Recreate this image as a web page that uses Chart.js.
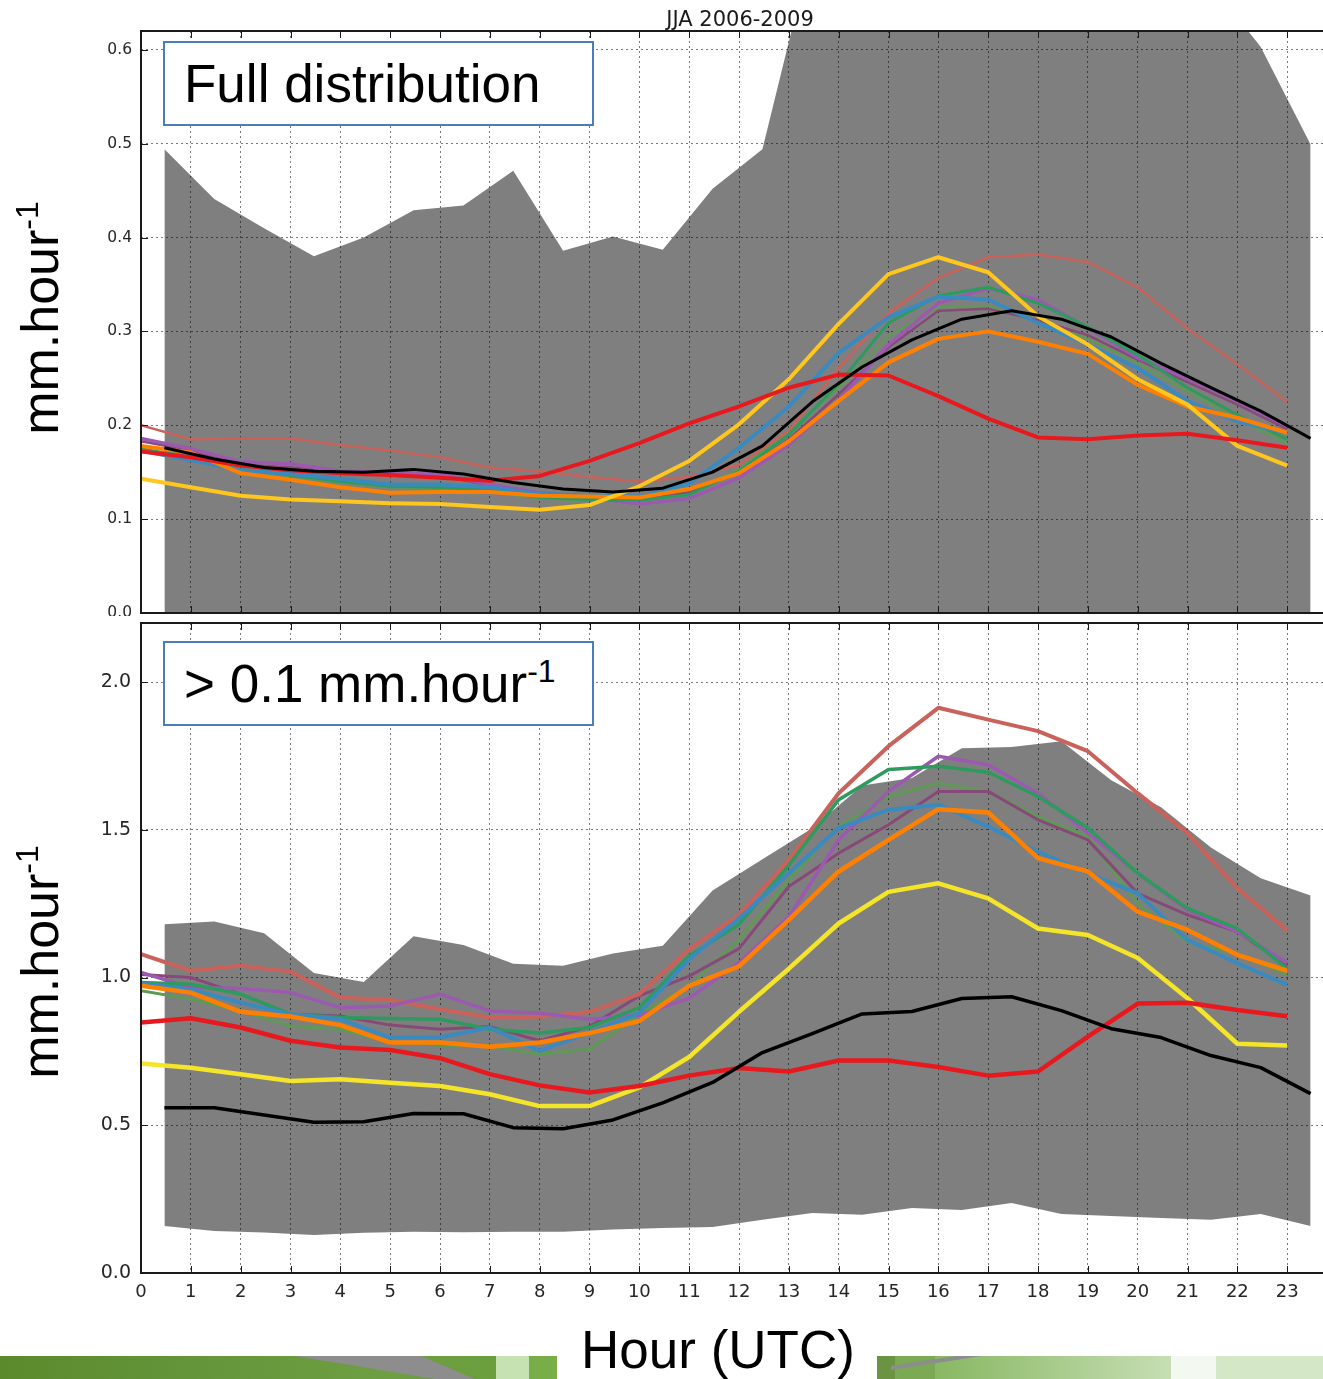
<!DOCTYPE html>
<html>
<head>
<meta charset="utf-8">
<script src="https://cdn.jsdelivr.net/npm/chart.js@4.4.1/dist/chart.umd.min.js"></script>
<style>
  html, body { margin: 0; padding: 0; background: #fff; }
  #page { position: relative; width: 1323px; height: 1379px; overflow: hidden; background: #fff; }
  canvas { position: absolute; left: 0; }
  #cTop { top: 0; }
  #cBot { top: 616px; }
  .title { position: absolute; left: 540px; width: 400px; top: 7px; text-align: center;
           font: 21px "DejaVu Sans", sans-serif; line-height: 24px; color: #1a1a1a; }
  .box { position: absolute; left: 163px; width: 431px; height: 85px; box-sizing: border-box;
         border: 2px solid #4a7ebb; background: #fff; }
  .boxtext { position: absolute; left: 184px; font: 53px "Liberation Sans", Arial, sans-serif;
             line-height: 52px; color: #000; white-space: nowrap; }
  .sup { font-size: 32px; position: relative; top: -20px; }
  .ytitle { position: absolute; width: 320px; height: 60px; line-height: 60px; text-align: center;
            font: 52px "Liberation Sans", Arial, sans-serif; color: #000; white-space: nowrap;
            transform: rotate(-90deg); }
  .ytitle .sup { font-size: 32px; top: -20px; }
  .xtitle { position: absolute; left: 468px; width: 500px; top: 1323px; text-align: center;
            font: 53px "Liberation Sans", Arial, sans-serif; line-height: 53px; color: #000; }
  .strip { position: absolute; top: 1356px; height: 23px; overflow: hidden; }
  #stripL { left: 0; width: 557px;
    background: linear-gradient(90deg, #5b8a2c 0%, #64953a 35%, #6e9f42 70%, #6b9e3d 89%,
                #c6e1b2 89%, #c6e1b2 95%, #79ad47 95%, #79ad47 100%); }
  #stripR { left: 877px; width: 446px;
    background: linear-gradient(90deg, #6a9342 0%, #6a9342 4%, #7ba954 4%, #7ba954 13%,
                #88b862 13%, #c7deb4 66%, #f3f8f0 66%, #f3f8f0 76%, #d4e7c7 76%, #d4e7c7 100%); }
  .wedge { position: absolute; background: #8d8d8d; }
</style>
</head>
<body>
<div id="page">
  <canvas id="cTop" width="1340" height="616"></canvas>
  <canvas id="cBot" width="1340" height="763"></canvas>

  <div class="title">JJA 2006-2009</div>

  <div class="box" style="top:41px"></div>
  <div class="boxtext" style="top:58px">Full distribution</div>

  <div class="box" style="top:641px"></div>
  <div class="boxtext" style="top:658px">&gt; 0.1 mm.hour<span class="sup">-1</span></div>

  <div class="ytitle" style="left:-120px; top:288px">mm.hour<span class="sup">-1</span></div>
  <div class="ytitle" style="left:-120px; top:932px">mm.hour<span class="sup">-1</span></div>

  <div class="strip" id="stripL">
    <div class="wedge" style="left:295px; top:0; width:180px; height:23px;
         clip-path: polygon(0 0, 70% 0, 100% 100%, 78% 100%);"></div>
  </div>
  <div class="strip" id="stripR">
    <div class="wedge" style="left:14px; top:10px; width:170px; height:4px;
         transform: rotate(-8.8deg); transform-origin: 0 50%;"></div>
  </div>

  <div class="xtitle">Hour (UTC)</div>
</div>

<script>
// ---- hours of the day (UTC) and axis labels ----
const HOURS = [0, 1, 2, 3, 4, 5, 6, 7, 8, 9, 10, 11, 12, 13, 14, 15, 16, 17, 18, 19, 20, 21, 22, 23];
const HOUR_LABELS = ['0', '1', '2', '3', '4', '5', '6', '7', '8', '9', '10', '11',
                     '12', '13', '14', '15', '16', '17', '18', '19', '20', '21', '22', '23'];
// observations and their spread are plotted at the centre of each hourly bin
const BIN_CENTRE = 0.47;
const BIN_HOURS = HOURS.map(h => h + BIN_CENTRE);

// ---- full distribution: mean rain rate (mm/hour) ----
const fullRed    = [0.172, 0.166, 0.157, 0.152, 0.149, 0.147, 0.144, 0.141, 0.146, 0.162, 0.181, 0.202, 0.220, 0.240, 0.254, 0.253, 0.231, 0.207, 0.187, 0.185, 0.189, 0.191, 0.184, 0.176];
const fullSalmon = [0.200, 0.185, 0.186, 0.186, 0.179, 0.173, 0.166, 0.155, 0.151, 0.145, 0.140, 0.145, 0.158, 0.194, 0.261, 0.320, 0.357, 0.379, 0.382, 0.374, 0.347, 0.303, 0.265, 0.225];
const fullPurple = [0.186, 0.175, 0.161, 0.159, 0.151, 0.150, 0.148, 0.137, 0.128, 0.123, 0.116, 0.122, 0.144, 0.179, 0.227, 0.286, 0.330, 0.346, 0.334, 0.304, 0.272, 0.250, 0.226, 0.199];
const fullPlum   = [0.183, 0.173, 0.158, 0.155, 0.150, 0.148, 0.146, 0.136, 0.128, 0.124, 0.122, 0.128, 0.150, 0.185, 0.233, 0.283, 0.322, 0.324, 0.312, 0.296, 0.270, 0.246, 0.222, 0.196];
const fullGreen  = [0.175, 0.166, 0.153, 0.147, 0.140, 0.135, 0.134, 0.131, 0.123, 0.121, 0.120, 0.126, 0.151, 0.190, 0.244, 0.309, 0.338, 0.347, 0.330, 0.305, 0.275, 0.240, 0.211, 0.185];
const fullOlive  = [0.174, 0.165, 0.152, 0.146, 0.139, 0.134, 0.133, 0.130, 0.122, 0.120, 0.121, 0.128, 0.153, 0.193, 0.240, 0.295, 0.326, 0.327, 0.311, 0.292, 0.266, 0.236, 0.206, 0.181];
const fullBlue   = [0.173, 0.163, 0.152, 0.148, 0.143, 0.137, 0.137, 0.134, 0.127, 0.125, 0.124, 0.138, 0.176, 0.220, 0.277, 0.315, 0.337, 0.334, 0.309, 0.286, 0.261, 0.226, 0.204, 0.192];
const fullOrange = [0.178, 0.171, 0.149, 0.142, 0.134, 0.128, 0.129, 0.129, 0.125, 0.124, 0.123, 0.132, 0.149, 0.183, 0.226, 0.267, 0.292, 0.300, 0.289, 0.276, 0.243, 0.220, 0.208, 0.192];
const fullGold   = [0.143, 0.134, 0.125, 0.121, 0.119, 0.117, 0.116, 0.113, 0.110, 0.115, 0.135, 0.162, 0.201, 0.249, 0.308, 0.361, 0.379, 0.363, 0.316, 0.286, 0.249, 0.222, 0.178, 0.157];
const fullObs    = [0.176, 0.164, 0.155, 0.151, 0.150, 0.153, 0.148, 0.139, 0.132, 0.129, 0.133, 0.150, 0.178, 0.225, 0.262, 0.291, 0.313, 0.322, 0.313, 0.294, 0.266, 0.240, 0.215, 0.186];
const fullSpreadHigh = [0.494, 0.441, 0.410, 0.380, 0.400, 0.429, 0.434, 0.471, 0.386, 0.401, 0.387, 0.452, 0.494, 0.710, 0.800, 0.850, 0.880, 0.900, 0.880, 0.850, 0.800, 0.670, 0.603, 0.499];

// ---- rain rates above 0.1 mm/hour ----
const wetRed    = [0.848, 0.862, 0.831, 0.786, 0.763, 0.755, 0.727, 0.673, 0.635, 0.611, 0.633, 0.668, 0.694, 0.682, 0.719, 0.719, 0.697, 0.668, 0.682, 0.800, 0.912, 0.915, 0.890, 0.869];
const wetSalmon = [1.079, 1.023, 1.040, 1.020, 0.932, 0.924, 0.893, 0.865, 0.867, 0.884, 0.944, 1.096, 1.212, 1.398, 1.624, 1.783, 1.913, 1.873, 1.834, 1.766, 1.624, 1.489, 1.302, 1.160];
const wetPurple = [1.017, 0.966, 0.963, 0.949, 0.898, 0.904, 0.944, 0.887, 0.879, 0.859, 0.872, 0.930, 1.050, 1.206, 1.466, 1.630, 1.749, 1.720, 1.624, 1.489, 1.353, 1.228, 1.155, 1.050];
const wetPlum   = [1.010, 1.000, 0.944, 0.876, 0.870, 0.839, 0.825, 0.834, 0.786, 0.834, 0.938, 1.005, 1.098, 1.308, 1.421, 1.517, 1.630, 1.630, 1.534, 1.466, 1.285, 1.212, 1.155, 1.040];
const wetGreen  = [0.983, 0.977, 0.944, 0.876, 0.865, 0.861, 0.859, 0.825, 0.812, 0.831, 0.898, 1.073, 1.180, 1.380, 1.602, 1.704, 1.715, 1.695, 1.613, 1.506, 1.353, 1.234, 1.166, 1.030];
const wetOlive  = [0.955, 0.927, 0.887, 0.836, 0.825, 0.780, 0.771, 0.769, 0.740, 0.757, 0.876, 0.970, 1.130, 1.330, 1.511, 1.613, 1.658, 1.630, 1.545, 1.477, 1.250, 1.120, 1.080, 1.010];
const wetBlue   = [0.980, 0.960, 0.915, 0.876, 0.859, 0.797, 0.797, 0.831, 0.752, 0.814, 0.880, 1.062, 1.200, 1.353, 1.506, 1.568, 1.585, 1.511, 1.426, 1.353, 1.285, 1.127, 1.049, 0.975];
const wetOrange = [0.972, 0.949, 0.884, 0.868, 0.839, 0.780, 0.780, 0.766, 0.780, 0.812, 0.853, 0.972, 1.038, 1.195, 1.359, 1.466, 1.570, 1.559, 1.404, 1.359, 1.223, 1.161, 1.077, 1.023];
const wetYellow = [0.709, 0.695, 0.673, 0.650, 0.656, 0.644, 0.633, 0.605, 0.565, 0.565, 0.628, 0.731, 0.884, 1.030, 1.183, 1.290, 1.319, 1.268, 1.166, 1.144, 1.066, 0.930, 0.776, 0.770];
const wetObs    = [0.559, 0.559, 0.535, 0.510, 0.512, 0.540, 0.539, 0.492, 0.488, 0.518, 0.576, 0.645, 0.746, 0.810, 0.877, 0.885, 0.929, 0.935, 0.888, 0.827, 0.797, 0.736, 0.695, 0.607];
const wetSpreadHigh = [1.180, 1.190, 1.150, 1.015, 0.985, 1.140, 1.110, 1.047, 1.040, 1.081, 1.108, 1.295, 1.400, 1.505, 1.650, 1.675, 1.776, 1.780, 1.800, 1.668, 1.576, 1.440, 1.336, 1.278];
const wetSpreadLow  = [0.159, 0.142, 0.137, 0.129, 0.136, 0.140, 0.138, 0.140, 0.140, 0.147, 0.152, 0.156, 0.180, 0.203, 0.197, 0.220, 0.213, 0.237, 0.200, 0.193, 0.186, 0.180, 0.200, 0.159];

// ---- styling ----
const COL = {
  red: '#e8191e', salmon: '#c8625a', purple: '#9b59b0', plum: '#874a78',
  green: '#2e9b5e', olive: '#5e9a55', blue: '#3a8ac0', orange: '#ff8000',
  gold: '#ffc61e', yellow: '#f4e52a', black: '#000000', spread: 'rgba(0,0,0,0.5)'
};
const TICK_FONT = '"DejaVu Sans", sans-serif';

function line(values, xs, color, width) {
  return {
    data: values.map((v, i) => ({ x: xs[i], y: v })),
    borderColor: color, borderWidth: width, pointRadius: 0, fill: false,
    tension: 0, borderJoinStyle: 'round', borderCapStyle: 'butt', order: 1
  };
}

// matplotlib-like frame with inward tick marks
const framePlugin = {
  id: 'frame',
  afterDatasetsDraw(chart) {
    const { ctx, chartArea: a, scales: { x, y } } = chart;
    ctx.save();
    ctx.strokeStyle = '#1a1a1a';
    ctx.lineWidth = 1;
    ctx.beginPath();
    x.ticks.forEach(t => {
      const px = Math.round(x.getPixelForValue(t.value)) + 0.5;
      ctx.moveTo(px, a.top); ctx.lineTo(px, a.top + 7);
      ctx.moveTo(px, a.bottom); ctx.lineTo(px, a.bottom - 7);
    });
    y.ticks.forEach(t => {
      const py = Math.round(y.getPixelForValue(t.value)) + 0.5;
      ctx.moveTo(a.left, py); ctx.lineTo(a.left + 7, py);
      ctx.moveTo(a.right, py); ctx.lineTo(a.right - 7, py);
    });
    ctx.stroke();
    ctx.lineWidth = 2;
    ctx.strokeRect(a.left, a.top, a.right - a.left, a.bottom - a.top);
    ctx.restore();
  }
};

// fixed axis boxes so both panels share the same plotting frame
function fixY(s) { s.width = 141; s.paddingTop = 0; s.paddingBottom = 0; }
function fixX(h) { return s => { s.height = h; s.paddingLeft = 0; s.paddingRight = 0; }; }

function makeOptions(cfg) {
  return {
    responsive: false,
    devicePixelRatio: 1,
    animation: false,
    events: [],
    layout: { autoPadding: false, padding: { left: 0, right: 3, top: cfg.padTop, bottom: 0 } },
    plugins: { legend: { display: false }, tooltip: { enabled: false }, title: { display: false } },
    scales: {
      x: {
        type: 'linear', min: 0, max: 24,
        afterFit: fixX(cfg.xHeight),
        border: { display: false, dash: [2, 3] },
        grid: { color: '#7a7a7a', lineWidth: 1, drawTicks: false },
        ticks: {
          display: cfg.xLabels, stepSize: 1, autoSkip: false, maxRotation: 0, padding: 9,
          color: '#262626', font: { family: TICK_FONT, size: 18 },
          callback: v => (v < HOUR_LABELS.length ? HOUR_LABELS[v] : '')
        }
      },
      y: {
        type: 'linear', min: 0, max: cfg.yMax,
        afterFit: fixY,
        border: { display: false, dash: [2, 3] },
        grid: { color: '#7a7a7a', lineWidth: 1, drawTicks: false },
        ticks: {
          stepSize: cfg.yStep, includeBounds: false, padding: cfg.yPad,
          color: '#262626', font: { family: TICK_FONT, size: cfg.yFont },
          callback: v => v.toFixed(1)
        }
      }
    }
  };
}

// Full distribution panel
new Chart(document.getElementById('cTop'), {
  type: 'line',
  data: {
    datasets: [
      line(fullObs, BIN_HOURS, COL.black, 3),
      line(fullRed, HOURS, COL.red, 4),
      line(fullGold, HOURS, COL.gold, 4),
      line(fullOrange, HOURS, COL.orange, 4),
      line(fullBlue, HOURS, COL.blue, 4),
      line(fullGreen, HOURS, COL.green, 3),
      line(fullPurple, HOURS, COL.purple, 3.5),
      line(fullSalmon, HOURS, COL.salmon, 2.5),
      line(fullPlum, HOURS, COL.plum, 2.5),
      line(fullOlive, HOURS, COL.olive, 2.5),
      {
        data: fullSpreadHigh.map((v, i) => ({ x: BIN_HOURS[i], y: v })),
        borderWidth: 0, pointRadius: 0, tension: 0,
        backgroundColor: COL.spread, fill: 'origin', order: 10
      }
    ]
  },
  options: makeOptions({ padTop: 31, xHeight: 3, xLabels: false, yMax: 0.62, yStep: 0.1, yPad: 9, yFont: 15.5 }),
  plugins: [framePlugin]
});

// Rain rates above 0.1 mm/hour panel
new Chart(document.getElementById('cBot'), {
  type: 'line',
  data: {
    datasets: [
      line(wetObs, BIN_HOURS, COL.black, 3.5),
      line(wetRed, HOURS, COL.red, 4.5),
      line(wetYellow, HOURS, COL.yellow, 4.5),
      line(wetOrange, HOURS, COL.orange, 4.5),
      line(wetBlue, HOURS, COL.blue, 4),
      line(wetGreen, HOURS, COL.green, 3.5),
      line(wetPurple, HOURS, COL.purple, 3.5),
      line(wetSalmon, HOURS, COL.salmon, 4),
      line(wetPlum, HOURS, COL.plum, 3),
      line(wetOlive, HOURS, COL.olive, 3),
      {
        data: wetSpreadHigh.map((v, i) => ({ x: BIN_HOURS[i], y: v })),
        borderWidth: 0, pointRadius: 0, tension: 0,
        backgroundColor: COL.spread, fill: '+1', order: 10
      },
      {
        data: wetSpreadLow.map((v, i) => ({ x: BIN_HOURS[i], y: v })),
        borderWidth: 0, pointRadius: 0, tension: 0, fill: false, order: 11
      }
    ]
  },
  options: makeOptions({ padTop: 7, xHeight: 106, xLabels: true, yMax: 2.2, yStep: 0.5, yPad: 10, yFont: 19 }),
  plugins: [framePlugin]
});
</script>
</body>
</html>
